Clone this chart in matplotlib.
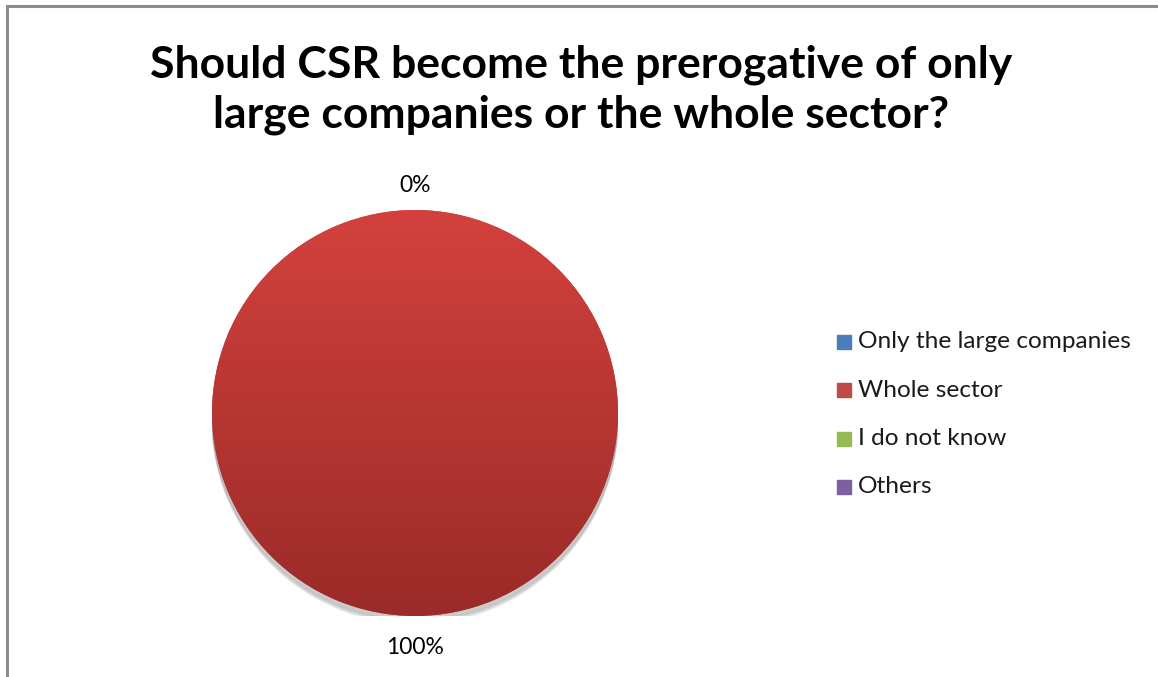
import numpy as np
import matplotlib.pyplot as plt
from matplotlib.patches import Rectangle
from matplotlib.colors import LinearSegmentedColormap

plt.rcParams['font.family'] = ['Lato', 'DejaVu Sans']

# data
categories = ['Only the large companies', 'Whole sector', 'I do not know', 'Others']
values = [0, 100, 0, 0]
colors = ['#4a7ebb', '#be4b48', '#98b954', '#7d60a0']
title = 'Should CSR become the prerogative of only\nlarge companies or the whole sector?'

W, H = 1158, 677
fig = plt.figure(figsize=(W / 100, H / 100), dpi=100)

# gray chart border (left and top visible)
fig.patches.append(Rectangle((7 / W, -0.1), 1.2, 1 - 6 / H + 0.1,
                             transform=fig.transFigure, fill=False,
                             edgecolor='#8c8c8c', linewidth=2.2))

fig.text(0.502, 1 - 90 / H, title, ha='center', va='center',
         fontsize=32, fontweight='bold', linespacing=1.3)

# pie axes: center (415, 413), radius ~203 px
r = 203
ax = fig.add_axes([(415 - r) / W, (H - 413 - r) / H, 2 * r / W, 2 * r / H])
wedges, _ = ax.pie(values, colors=colors, startangle=90, counterclock=False,
                   radius=1)
ax.set_xlim(-1, 1)
ax.set_ylim(-1, 1)
ax.set_aspect('equal')

# soft shadow under the pie
for i in range(6):
    sh = plt.Circle((0.0, -0.02 - i * 0.004), 1.0, color='black',
                    alpha=0.035, zorder=0, transform=ax.transData)
    ax.add_patch(sh)

# vertical gradient fill for the big red wedge
red_cmap = LinearSegmentedColormap.from_list('r', ['#9a2b28', '#d3413e'])
grad = np.linspace(0, 1, 256).reshape(-1, 1)
for w, v in zip(wedges, values):
    if v > 0:
        im = ax.imshow(grad, extent=[-1, 1, -1, 1], origin='lower',
                       cmap=red_cmap, aspect='auto', zorder=2)
        im.set_clip_path(w)
ax.set_xlim(-1, 1)
ax.set_ylim(-1, 1)
ax.axis('off')

# percentage labels: first wedge (0%) at top, full wedge (100%) below
total = sum(values)
fig.text(415 / W, 1 - 186 / H, f'{values[0] / total * 100:.0f}%',
         ha='center', va='center', fontsize=16.5)
fig.text(415 / W, 1 - 648 / H, f'{values[1] / total * 100:.0f}%',
         ha='center', va='center', fontsize=16.5)

# legend
for i, (c, lab) in enumerate(zip(colors, categories)):
    y = 1 - (342 + i * 48.3) / H
    fig.patches.append(Rectangle((837 / W, y - 7 / H), 14 / W, 14 / H,
                                 transform=fig.transFigure, color=c))
    fig.text(858 / W, y, lab, ha='left', va='center', fontsize=17.6,
             color='#1a1a1a')

fig.savefig('out.png', dpi=100)
